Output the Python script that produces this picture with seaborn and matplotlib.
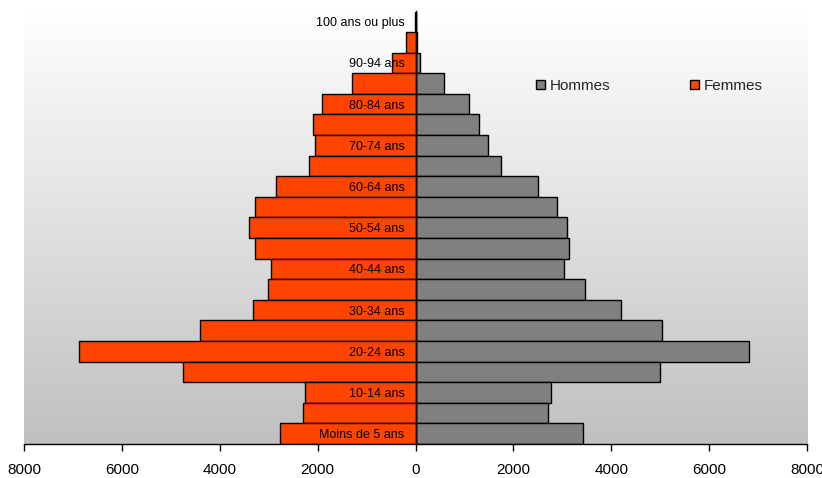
import numpy as np
import pandas as pd
import matplotlib
matplotlib.use("Agg")
import matplotlib.pyplot as plt
from matplotlib.colors import LinearSegmentedColormap
import seaborn as sns

ages = ["Moins de 5 ans", "5-9 ans", "10-14 ans", "15-19 ans", "20-24 ans",
        "25-29 ans", "30-34 ans", "35-39 ans", "40-44 ans", "45-49 ans",
        "50-54 ans", "55-59 ans", "60-64 ans", "65-69 ans", "70-74 ans",
        "75-79 ans", "80-84 ans", "85-89 ans", "90-94 ans", "95-99 ans",
        "100 ans ou plus"]
femmes = [2760, 2300, 2250, 4750, 6875, 4400, 3325, 3010, 2960, 3280,
          3400, 3270, 2860, 2175, 2060, 2085, 1910, 1300, 480, 190, 20]
hommes = [3430, 2715, 2775, 4995, 6815, 5035, 4200, 3470, 3035, 3135,
          3090, 2890, 2500, 1745, 1480, 1290, 1095, 590, 90, 25, 10]
xticks = [-8000, -6000, -4000, -2000, 0, 2000, 4000, 6000, 8000]

sns.set_theme(style="white")
plt.rcParams["font.family"] = ["Liberation Sans", "DejaVu Sans"]

df = pd.concat([
    pd.DataFrame({"age": ages, "sexe": "Hommes", "valeur": hommes}),
    pd.DataFrame({"age": ages, "sexe": "Femmes", "valeur": [-v for v in femmes]}),
])

W, H = 822, 478
fig = plt.figure(figsize=(W / 100, H / 100), dpi=100)
fig.patch.set_facecolor("white")
rect = [24 / W, 1 - 444 / H, (807 - 24) / W, (444 - 11.5) / H]

# gradient background
bg = fig.add_axes(rect, zorder=0)
grad = np.linspace(0, 1, 256).reshape(-1, 1)
cmap = LinearSegmentedColormap.from_list("g", ["#ffffff", "#c0c0c0"])
bg.imshow(grad, aspect="auto", cmap=cmap, extent=[0, 1, 0, 1], origin="upper")
bg.axis("off")

ax = fig.add_axes(rect, zorder=1)
ax.patch.set_alpha(0)
sns.barplot(data=df, x="valeur", y="age", hue="sexe", order=ages[::-1],
            hue_order=["Hommes", "Femmes"], dodge=False, width=1.0,
            palette={"Hommes": "#808080", "Femmes": "#ff4400"}, saturation=1,
            edgecolor="black", linewidth=1.0, ax=ax, legend=True)
for p in ax.patches:
    p.set_zorder(0.5)

ax.set_xlim(-8000, 8000)
ax.set_ylim(len(ages) - 0.5, -0.5)
ax.set_xticks(xticks)
ax.set_xticklabels([str(abs(v)) for v in xticks])
ylabels = [a if i % 2 == 0 else "" for i, a in enumerate(ages)][::-1]
ax.set_yticks(range(len(ages)))
ax.set_yticklabels(ylabels)
ax.set_xlabel("")
ax.set_ylabel("")
for s in ["top", "right"]:
    ax.spines[s].set_visible(False)
ax.spines["left"].set_position(("data", 0))
ax.spines["left"].set_color("black")
ax.spines["left"].set_linewidth(1.0)
ax.spines["bottom"].set_color("black")
ax.spines["bottom"].set_linewidth(1.0)
ax.tick_params(axis="x", direction="out", length=5, width=1, color="black",
               pad=9, labelcolor="black", bottom=True, labelsize=11)
ax.tick_params(axis="y", length=0, pad=8, labelcolor="black", labelsize=9)
ax.yaxis.set_zorder(5)
ax.grid(False)

leg = ax.legend(loc="upper left", bbox_to_anchor=(536 / W, 1 - 79 / H),
                bbox_transform=fig.transFigure, ncol=2, frameon=False,
                fontsize=11, handlelength=0.6, handleheight=0.6,
                handletextpad=0.3, columnspacing=5.2, borderpad=0,
                borderaxespad=0)
for h in leg.legend_handles:
    h.set_edgecolor("black")
    h.set_linewidth(1.0)

fig.savefig("out.png", dpi=100)
